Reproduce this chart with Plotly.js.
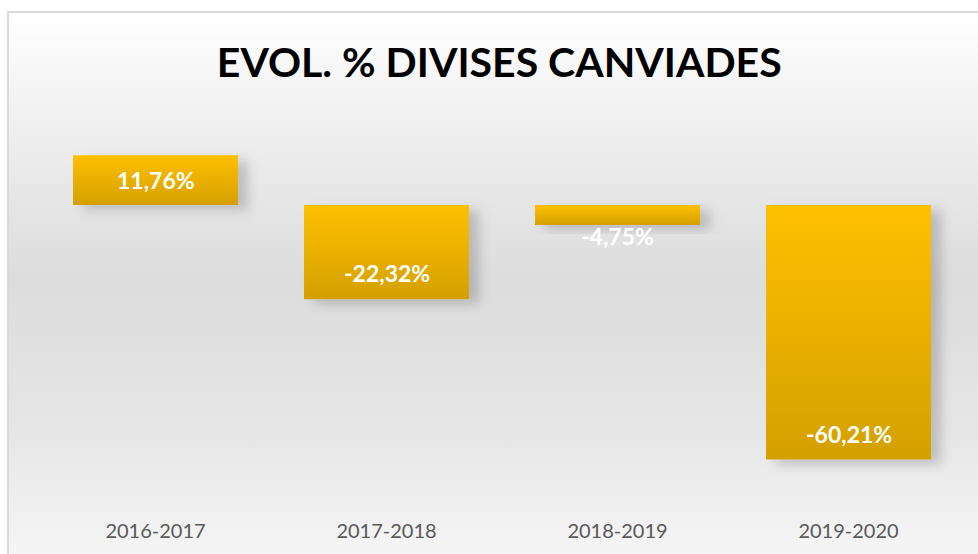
<!DOCTYPE html>
<html><head><meta charset="utf-8">
<script src="https://cdn.plot.ly/plotly-3.0.1.min.js"></script>
<style>
html,body{margin:0;padding:0;width:978px;height:554px;overflow:hidden;background:#fff;}
#bg{position:absolute;left:7px;top:11px;width:1000px;height:560px;border:2px solid #d9d9d9;box-sizing:border-box;
background:linear-gradient(to bottom,#ffffff 0%,#f4f4f4 14%,#dcdcdc 48%,#e6e6e6 75%,#f7f7f7 100%);}
#chart{position:absolute;left:0;top:0;width:978px;height:554px;}
</style></head><body>
<div id="bg"></div><div id="chart"></div>
<script>
const categories = ['2016-2017', '2017-2018', '2018-2019', '2019-2020'];
const values = [11.76, -22.32, -4.75, -60.21];
const valueLabels = ['11,76%', '-22,32%', '-4,75%', '-60,21%'];
const chartTitle = 'EVOL. % DIVISES CANVIADES';

const trace = {
  type: 'bar',
  x: categories,
  y: values,
  marker: {color: '#EBB000', line: {width: 0}},
  hoverinfo: 'skip'
};

const annotations = values.map((v, i) => {
  let y, shift;
  if (v > 0) { y = v / 2; shift = 0; }
  else if (Math.abs(v) < 10) { y = v; shift = -11; }
  else { y = v; shift = 26; }
  return {
    x: categories[i], y: y, xref: 'x', yref: 'y', yshift: shift,
    text: '<b>' + valueLabels[i] + '</b>', showarrow: false,
    font: {family: 'Lato', size: 23, color: '#ffffff'},
    xanchor: 'center', yanchor: 'middle'
  };
});

const layout = {
  width: 978, height: 554,
  margin: {l: 40, r: 14, t: 100, b: 42},
  paper_bgcolor: 'rgba(0,0,0,0)',
  plot_bgcolor: 'rgba(0,0,0,0)',
  bargap: 0.286,
  showlegend: false,
  title: {
    text: '<b>' + chartTitle + '</b>',
    font: {family: 'Lato', size: 41, color: '#000000'},
    x: 0.497, xanchor: 'center', xref: 'paper',
    y: 1 - 63 / 554, yanchor: 'middle', yref: 'container'
  },
  xaxis: {
    type: 'category',
    showgrid: false, zeroline: false, showline: false,
    ticks: 'outside', ticklen: 1, tickcolor: 'rgba(0,0,0,0)',
    tickfont: {family: 'Lato', size: 20, color: '#595959'}
  },
  yaxis: {
    range: [-72.6, 24.8],
    showgrid: false, zeroline: false, showline: false,
    showticklabels: false, ticks: ''
  },
  annotations: annotations
};

Plotly.newPlot('chart', [trace], layout, {staticPlot: true, displayModeBar: false}).then(() => {
  const svg = document.querySelector('#chart .main-svg');
  const ns = 'http://www.w3.org/2000/svg';
  let defs = svg.querySelector('defs');
  if (!defs) { defs = document.createElementNS(ns, 'defs'); svg.insertBefore(defs, svg.firstChild); }
  const grad = document.createElementNS(ns, 'linearGradient');
  grad.setAttribute('id', 'barGrad');
  grad.setAttribute('x1', '0'); grad.setAttribute('y1', '0');
  grad.setAttribute('x2', '0'); grad.setAttribute('y2', '1');
  [['0%', '#FFC000'], ['100%', '#D4A000']].forEach(([o, c]) => {
    const s = document.createElementNS(ns, 'stop');
    s.setAttribute('offset', o); s.setAttribute('stop-color', c);
    grad.appendChild(s);
  });
  defs.appendChild(grad);
  const filt = document.createElementNS(ns, 'filter');
  filt.setAttribute('id', 'barShadow');
  filt.setAttribute('x', '-20%'); filt.setAttribute('y', '-20%');
  filt.setAttribute('width', '150%'); filt.setAttribute('height', '160%');
  const ds = document.createElementNS(ns, 'feDropShadow');
  ds.setAttribute('dx', '10'); ds.setAttribute('dy', '5');
  ds.setAttribute('stdDeviation', '6');
  ds.setAttribute('flood-color', '#000'); ds.setAttribute('flood-opacity', '0.18');
  filt.appendChild(ds);
  defs.appendChild(filt);
  document.querySelectorAll('#chart .bars .point path').forEach(p => {
    p.style.fill = 'url(#barGrad)';
    p.setAttribute('filter', 'url(#barShadow)');
  });
});
</script>
</body></html>
